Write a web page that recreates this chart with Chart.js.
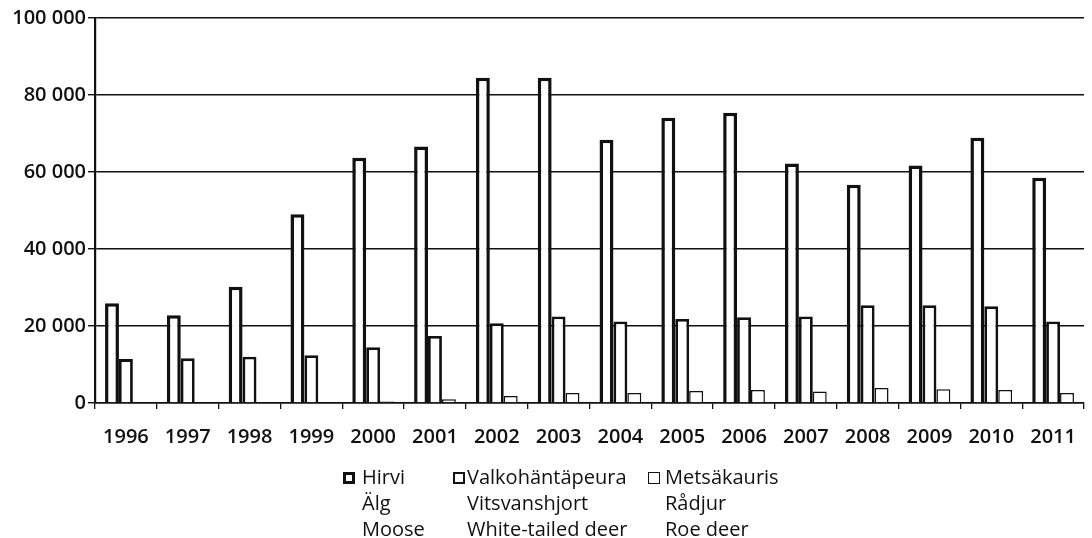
<!DOCTYPE html>
<html>
<head>
<meta charset="utf-8">
<script src="https://cdn.jsdelivr.net/npm/chart.js@4"></script>
<style>
  body { margin: 0; background: #fff; }
  #wrap { position: relative; width: 1092px; height: 538px; }
  .leg { position: absolute; top: 464px; font-family: 'Open Sans', sans-serif; font-size: 20px; line-height: 26px; color: #111; white-space: nowrap; }
  .box { position: absolute; top: 8px; width: 12px; height: 12px; box-sizing: border-box; border: 3px solid #111; background: #fff; }
</style>
</head>
<body>
<div id="wrap">
  <canvas id="grafico"></canvas>
  <div class="leg" style="left:343px"><span class="box"></span><div style="margin-left:19px">Hirvi<br>Älg<br>Moose</div></div>
  <div class="leg" style="left:453px"><span class="box" style="border-width:2.5px"></span><div style="margin-left:14px">Valkohäntäpeura<br>Vitsvanshjort<br>White-tailed deer</div></div>
  <div class="leg" style="left:648px"><span class="box" style="border-width:1.3px"></span><div style="margin-left:17px">Metsäkauris<br>Rådjur<br>Roe deer</div></div>
</div>
<script>
const vuodet = ['1996','1997','1998','1999','2000','2001','2002','2003','2004','2005','2006','2007','2008','2009','2010','2011'];
const hirvi = [25900, 22800, 30200, 49000, 63700, 66600, 84500, 84500, 68400, 74100, 75400, 62200, 56700, 61700, 68900, 58500];
const valkohantapeura = [11400, 11600, 12000, 12400, 14500, 17400, 20700, 22500, 21200, 21800, 22300, 22500, 25400, 25400, 25100, 21200];
const metsakauris = [200, 200, 200, 200, 400, 1000, 1800, 2600, 2600, 3100, 3400, 3000, 3900, 3600, 3400, 2600];
const yTicks = [0, 20000, 40000, 60000, 80000, 100000];

const fmt = v => String(v).replace(/\B(?=(\d{3})+(?!\d))/g, ' ');

Chart.defaults.font.family = "'Open Sans', sans-serif";
Chart.defaults.color = '#111';

const ctx = document.getElementById('grafico');
new Chart(ctx, {
    type: 'bar',
    data: {
        labels: vuodet,
        datasets: [
            { label: 'Hirvi', data: hirvi, backgroundColor: '#fff', borderColor: '#111', borderWidth: 3.5 },
            { label: 'Valkohäntäpeura', data: valkohantapeura, backgroundColor: '#fff', borderColor: '#111', borderWidth: 2.8 },
            { label: 'Metsäkauris', data: metsakauris, backgroundColor: '#fff', borderColor: '#111', borderWidth: 1.5 }
        ]
    },
    options: {
        responsive: true,
        maintainAspectRatio: false,
        animation: false,
        layout: { padding: { top: 18, right: 1, bottom: 95, left: 0 } },
        datasets: { bar: { categoryPercentage: 0.675, barPercentage: 1 } },
        plugins: { legend: { display: false }, tooltip: { enabled: false } },
        scales: {
            x: {
                grid: { display: true, drawOnChartArea: false, offset: true, color: '#111', lineWidth: 1.3, tickLength: 6 },
                border: { display: true, color: '#111', width: 1.6 },
                ticks: { font: { size: 20, weight: '600' }, padding: 16, maxRotation: 0 },
                afterFit: s => { s.height = 40; }
            },
            y: {
                min: 0, max: 100000,
                afterBuildTicks: s => { s.ticks = yTicks.map(v => ({ value: v })); },
                grid: { color: '#111', lineWidth: 1.4, tickLength: 7 },
                border: { display: true, color: '#111', width: 2.2 },
                ticks: { font: { size: 20, weight: '600' }, padding: 2, callback: v => fmt(v) },
                afterFit: s => { s.width = 95; }
            }
        }
    }
});
</script>
</body>
</html>
